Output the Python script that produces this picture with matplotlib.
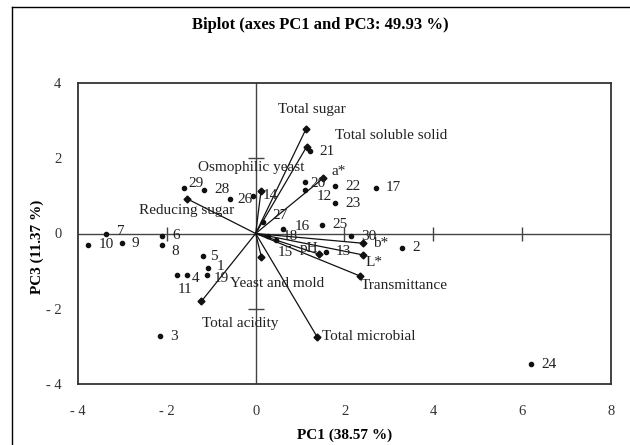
import matplotlib
matplotlib.use("Agg")
import matplotlib.pyplot as plt
from matplotlib.lines import Line2D

plt.rcParams['font.family'] = ['Liberation Serif', 'DejaVu Serif']

# -----------------------------
# observations (PC1, PC3 scores)
obs_ids = [str(i) for i in range(1, 31)]
obs_pc1 = [-1.07, 3.30, -2.16, -1.55, -1.18, -2.10, -3.36, -2.10, -3.01, -3.77,
           -1.76, 1.12, 1.58, -0.06, 0.46, 0.61, 2.71, 0.28, -1.10, 1.12,
           1.22, 1.79, 1.79, 6.21, 1.50, -0.58, 0.17, -1.16, -1.61, 2.15]
obs_pc3 = [-0.91, -0.38, -2.73, -1.09, -0.60, -0.06, -0.02, -0.30, -0.26, -0.30,
           -1.11, 1.16, -0.48, 1.00, -0.17, 0.11, 1.22, -0.07, -1.09, 1.38,
           2.19, 1.26, 0.80, -3.48, 0.23, 0.91, 0.31, 1.16, 1.22, -0.07]

# variables (loadings)
var_names = ['Total sugar', 'Total soluble solid', 'Osmophilic yeast', 'a*',
             'Reducing sugar', 'b*', 'L*', 'pH', 'Transmittance',
             'Total microbial', 'Total acidity', 'Yeast and mold']
var_pc1 = [1.13, 1.15, 0.12, 1.52, -1.54, 2.42, 2.42, 1.43, 2.35, 1.38, -1.22, 0.13]
var_pc3 = [2.77, 2.31, 1.13, 1.47, 0.92, -0.26, -0.57, -0.55, -1.13, -2.74, -1.80, -0.63]

xticks = [-4, -2, 0, 2, 4, 6, 8]
yticks = [-4, -2, 0, 2, 4]

# label offsets in pixels (x right, y up)
obs_off = {'4': (5, -4), '8': (9, -7), '11': (0, -14), '12': (11, -7),
           '15': (2, -13), '18': (15, 0), '19': (7, -4), '20': (5, -2),
           '26': (7, 0), '27': (9, 6), '29': (4, 4), '5': (7, 0), '1': (9, 1),
           '16': (12, 3), '7': (11, 3)}
var_off = {'Total sugar': (-28, 20), 'Total soluble solid': (28, 11),
           'Osmophilic yeast': (-63, 23), 'a*': (8, 7), 'Reducing sugar': (-48, -12),
           'b*': (10, 0), 'L*': (2, -8), 'pH': (-19, 6), 'Transmittance': (1, -9),
           'Total microbial': (5, 0), 'Total acidity': (1, -22),
           'Yeast and mold': (-31, -26)}

txt_col = '#222222'

fig = plt.figure(figsize=(6.3, 4.45), dpi=100)
ax = fig.add_axes([78/630, 1-384/445, 533/630, 301/445])

# zero axes with cross ticks
ax.axhline(0, color='#444444', lw=1, zorder=1)
ax.axvline(0, color='#444444', lw=1, zorder=1)
ax.plot([-2, 2, 4, 6], [0, 0, 0, 0], ls='none', marker='|', ms=10, mew=1, color='#444444')
ax.plot([0, 0], [-2, 2], ls='none', marker='_', ms=12, mew=1, color='#444444')

# variable vectors
for name, x, y in zip(var_names, var_pc1, var_pc3):
    ax.plot([0, x], [0, y], color='#111111', lw=0.9, zorder=2)
    ax.plot(x, y, marker='D', ms=3.5, color='#111111', zorder=3)
    dx, dy = var_off[name]
    ax.annotate(name, (x, y), xytext=(dx, dy), textcoords='offset pixels',
                ha='left', va='center', fontsize=11, color=txt_col)

# observations
ax.plot(obs_pc1, obs_pc3, ls='none', marker='o', ms=3, color='#111111', zorder=3)
for lab, x, y in zip(obs_ids, obs_pc1, obs_pc3):
    dx, dy = obs_off.get(lab, (10, 0))
    ax.annotate(lab, (x, y), xytext=(dx, dy), textcoords='offset pixels',
                ha='left', va='center', fontsize=11, color=txt_col)

ax.set_xlim(-4, 8)
ax.set_ylim(-4, 4)
ax.set_xticks(xticks, [str(t).replace('-', '- ') for t in xticks])
ax.set_yticks(yticks, [str(t).replace('-', '- ') for t in yticks])
ax.tick_params(length=0, labelsize=10.5, labelcolor='#333333')
ax.tick_params(axis='x', pad=15)
ax.tick_params(axis='y', pad=12)
for sp in ax.spines.values():
    sp.set_color('#333333')
    sp.set_linewidth(1.3)

ax.set_xlabel('PC1 (38.57 %)', fontsize=11, fontweight='bold', labelpad=8)
ax.set_ylabel('PC3 (11.37 %)', fontsize=11, fontweight='bold')
ax.yaxis.set_label_coords(-0.064, 0.455)
fig.text(320/630, 1-25/445, 'Biplot (axes PC1 and PC3: 49.93 %)', ha='center',
         va='center', fontsize=12, fontweight='bold')

# outer border (left and top)
fig.add_artist(Line2D([12/630, 12/630], [0, 1-7/445], color='black', lw=1))
fig.add_artist(Line2D([12/630, 1], [1-7/445, 1-7/445], color='black', lw=1))

fig.savefig('out.png', dpi=100)
